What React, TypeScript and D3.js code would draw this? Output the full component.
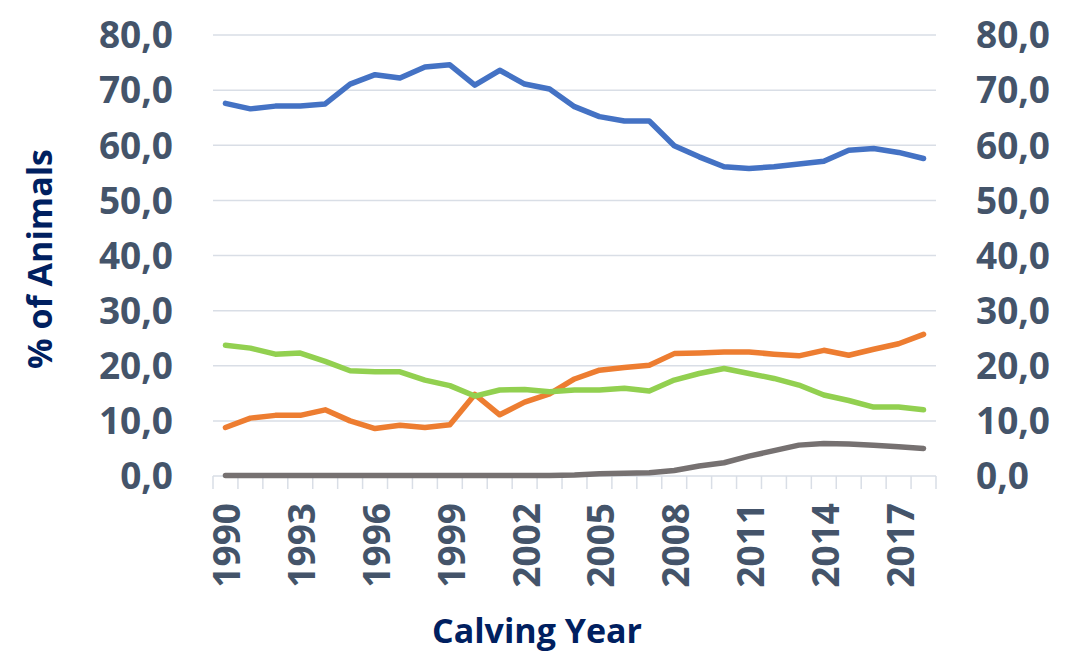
import React from "react";
import * as d3 from "d3";

const years = d3.range(1990, 2019).map(String);
const tickYears = ["1990", "1993", "1996", "1999", "2002", "2005", "2008", "2011", "2014", "2017"];
const yTicks = [0, 10, 20, 30, 40, 50, 60, 70, 80];

const blue = [67.6, 66.6, 67.1, 67.1, 67.5, 71.1, 72.8, 72.2, 74.2, 74.6, 70.9, 73.6, 71.1, 70.2, 67.0, 65.2, 64.4, 64.4, 59.9, 57.9, 56.1, 55.8, 56.1, 56.6, 57.1, 59.1, 59.4, 58.7, 57.6];
const orange = [8.8, 10.5, 11.0, 11.0, 12.0, 10.0, 8.6, 9.2, 8.8, 9.3, 14.8, 11.1, 13.4, 14.9, 17.6, 19.2, 19.7, 20.1, 22.2, 22.3, 22.5, 22.5, 22.1, 21.8, 22.8, 21.9, 23.0, 24.0, 25.7];
const green = [23.7, 23.2, 22.1, 22.3, 20.8, 19.1, 18.9, 18.9, 17.4, 16.4, 14.5, 15.6, 15.7, 15.3, 15.6, 15.6, 15.9, 15.4, 17.4, 18.6, 19.5, 18.6, 17.7, 16.5, 14.7, 13.7, 12.5, 12.5, 12.0];
const gray = [0.1, 0.1, 0.1, 0.1, 0.1, 0.1, 0.1, 0.1, 0.1, 0.1, 0.1, 0.1, 0.1, 0.1, 0.2, 0.4, 0.5, 0.6, 1.0, 1.8, 2.4, 3.6, 4.6, 5.6, 5.9, 5.8, 5.6, 5.3, 5.0];

const series = [
  { name: "blue", values: blue, color: "#4472C4" },
  { name: "orange", values: orange, color: "#ED7D31" },
  { name: "green", values: green, color: "#92D050" },
  { name: "gray", values: gray, color: "#767171" },
];

const W = 1076;
const H = 654;
const left = 213;
const right = 936;
const top = 35;
const bottom = 476;

export default function App() {
  const x = d3.scaleBand<string>().domain(years).range([left, right]);
  const y = d3.scaleLinear().domain([0, 80]).range([bottom, top]);
  const line = d3
    .line<number>()
    .x((_, i) => (x(years[i]) as number) + x.bandwidth() / 2)
    .y((d) => y(d));
  const fmt = (v: number) => v.toFixed(1).replace(".", ",");
  const tickFont = "'Open Sans', sans-serif";
  const gridColor = "#D9DEE6";
  const labelColor = "#44546A";
  const titleColor = "#002060";

  return (
    <svg width={W} height={H} style={{ position: "absolute", left: 0, top: 0 }}>
      <rect width={W} height={H} fill="#fff" />
      {yTicks.map((t) => (
        <line key={"g" + t} x1={left} x2={right} y1={y(t)} y2={y(t)} stroke={gridColor} strokeWidth={1.5} />
      ))}
      {years.concat(["end"]).map((yr, i) => {
        const xx = left + i * x.step();
        return <line key={"t" + i} x1={xx} x2={xx} y1={bottom} y2={bottom + 13} stroke={gridColor} strokeWidth={1.5} />;
      })}
      {yTicks.map((t) => (
        <text key={"l" + t} x={173} y={y(t)} dy="0.36em" textAnchor="end" fontFamily={tickFont} fontWeight={700} fontSize={37} fill={labelColor}>
          {fmt(t)}
        </text>
      ))}
      {yTicks.map((t) => (
        <text key={"r" + t} x={976} y={y(t)} dy="0.36em" textAnchor="start" fontFamily={tickFont} fontWeight={700} fontSize={37} fill={labelColor}>
          {fmt(t)}
        </text>
      ))}
      {tickYears.map((yr) => {
        const cx = (x(yr) as number) + x.bandwidth() / 2 + 15;
        return (
          <text key={"x" + yr} transform={`translate(${cx},${503}) rotate(-90)`} textAnchor="end" fontFamily={tickFont} fontWeight={700} fontSize={37} fill={labelColor}>
            {yr}
          </text>
        );
      })}
      {series.map((s) => (
        <path key={s.name} d={line(s.values) || ""} fill="none" stroke={s.color} strokeWidth={5.5} strokeLinejoin="round" strokeLinecap="round" />
      ))}
      <text transform={`translate(${52},${259}) rotate(-90)`} textAnchor="middle" fontFamily={tickFont} fontWeight={700} fontSize={34} fill={titleColor}>
        % of Animals
      </text>
      <text x={537} y={643} textAnchor="middle" fontFamily={tickFont} fontWeight={700} fontSize={34} fill={titleColor}>
        Calving Year
      </text>
    </svg>
  );
}
